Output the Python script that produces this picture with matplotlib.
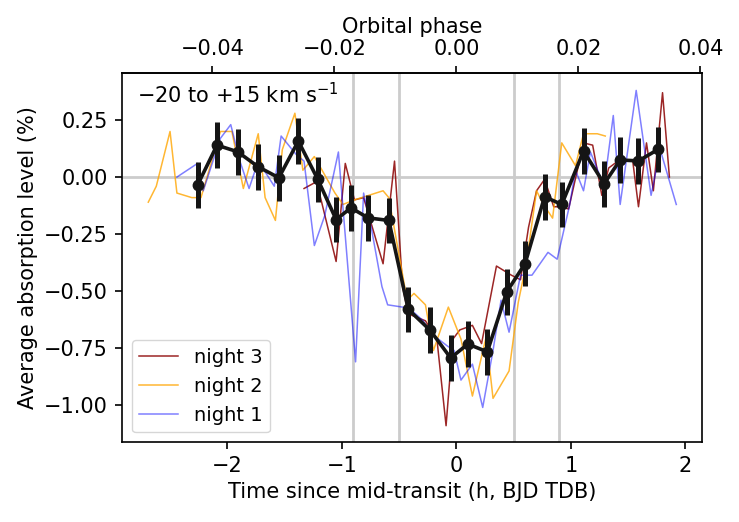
import numpy as np
import matplotlib
matplotlib.use("Agg")
import matplotlib.pyplot as plt

# night 3 (red)
n3_t = [-1.33, -1.22, -1.05, -0.97, -0.89, -0.81, -0.64, -0.54, -0.47, -0.42,
        -0.27, -0.17, -0.09, -0.03, 0.03, 0.14, 0.22, 0.35, 0.48, 0.56,
        0.63, 0.70, 0.77, 0.85, 0.91, 0.98, 1.11, 1.19, 1.27, 1.33,
        1.41, 1.54, 1.59, 1.66, 1.72, 1.80, 1.86]
n3_y = [-0.05, -0.02, -0.37, 0.06, -0.10, -0.09, -0.38, 0.07, -0.48, -0.60,
        -0.63, -0.71, -1.09, -0.71, -0.67, -0.65, -0.73, -0.39, -0.43, -0.45,
        -0.22, -0.06, -0.01, -0.13, -0.13, -0.14, 0.15, 0.14, -0.08, 0.04,
        0.07, 0.07, -0.13, 0.15, -0.06, 0.37, 0.00]

# night 2 (orange)
n2_t = [-2.69, -2.62, -2.50, -2.44, -2.31, -2.23, -2.06, -1.96, -1.86, -1.73,
        -1.67, -1.58, -1.52, -1.41, -1.34, -1.24, -1.06, -0.99, -0.89, -0.64,
        -0.59, -0.43, -0.37, -0.27, -0.20, -0.07, 0.04, 0.14, 0.26, 0.32,
        0.46, 0.54, 0.61, 0.70, 0.76, 0.84, 0.92, 1.04, 1.11, 1.23, 1.30]
n2_y = [-0.11, -0.04, 0.20, -0.07, -0.09, -0.09, 0.20, 0.20, -0.05, 0.19,
        -0.09, -0.19, 0.12, 0.28, 0.03, 0.09, -0.07, -0.12, -0.10, -0.06,
        -0.09, -0.54, -0.51, -0.56, -0.76, -0.57, -0.71, -0.96, -0.70, -0.97,
        -0.85, -0.55, -0.38, -0.06, -0.12, -0.18, 0.15, 0.05, 0.19, 0.19, 0.18]

# night 1 (blue)
n1_t = [-2.44, -2.26, -2.21, -2.06, -1.97, -1.89, -1.81, -1.73, -1.59, -1.53,
        -1.40, -1.33, -1.24, -1.15, -1.03, -0.88, -0.81, -0.74, -0.65, -0.60,
        -0.47, -0.40, -0.29, -0.21, -0.08, -0.02, 0.04, 0.14, 0.23, 0.32,
        0.39, 0.46, 0.56, 0.66, 0.80, 0.88, 0.99, 1.04, 1.11, 1.17, 1.29,
        1.37, 1.43, 1.57, 1.70, 1.78, 1.92]
n1_y = [0.00, 0.06, -0.06, 0.17, 0.23, 0.07, -0.05, 0.07, -0.04, 0.18,
        0.10, 0.07, -0.30, -0.17, 0.11, -0.81, -0.07, -0.23, -0.48, -0.56,
        -0.57, -0.58, -0.63, -0.69, -0.74, -0.76, -0.89, -0.82, -1.01, -0.76,
        -0.54, -0.68, -0.43, -0.43, -0.33, -0.36, -0.12, 0.03, -0.06, 0.11, -0.04,
        0.27, -0.12, 0.38, -0.08, 0.12, -0.12]

# binned average
bin_t = [-2.26, -2.09, -1.91, -1.73, -1.55, -1.38, -1.21, -1.05, -0.92, -0.77,
         -0.59, -0.42, -0.23, -0.05, 0.10, 0.27, 0.44, 0.60, 0.77, 0.92,
         1.11, 1.29, 1.43, 1.59, 1.76]
bin_y = [-0.035, 0.140, 0.111, 0.045, -0.003, 0.158, -0.010, -0.186, -0.135, -0.179,
         -0.190, -0.580, -0.671, -0.793, -0.732, -0.766, -0.503, -0.379, -0.086, -0.120,
         0.114, -0.029, 0.075, 0.071, 0.121]
bin_err = [0.10, 0.10, 0.10, 0.10, 0.10, 0.10, 0.10, 0.10, 0.10, 0.10,
           0.10, 0.10, 0.10, 0.10, 0.10, 0.10, 0.10, 0.10, 0.10, 0.10,
           0.10, 0.10, 0.10, 0.10, 0.10]

contacts = [-0.90, -0.50, 0.50, 0.90]
period_h = 53.25

plt.rcParams['font.family'] = 'DejaVu Sans'
plt.rcParams['font.size'] = 15
plt.rcParams['axes.linewidth'] = 1.2
for a in ('xtick', 'ytick'):
    plt.rcParams[a + '.major.size'] = 5.2
    plt.rcParams[a + '.major.width'] = 1.2
    plt.rcParams[a + '.major.pad'] = 5

fig = plt.figure(figsize=(7.39, 5.22), dpi=100)
ax = fig.add_axes([0.165, 0.153, 0.785, 0.707])

ax.axhline(0, color='#cccccc', lw=2, zorder=0)
for c in contacts:
    ax.axvline(c, color='#cccccc', lw=2, zorder=0)

ax.plot(n3_t, n3_y, color='darkred', alpha=0.85, lw=1.1, label='night 3')
ax.plot(n2_t, n2_y, color='orange', alpha=0.8, lw=1.1, label='night 2')
ax.plot(n1_t, n1_y, color='blue', alpha=0.5, lw=1.1, label='night 1')

ax.errorbar(bin_t, bin_y, yerr=bin_err, fmt='o-', color='#151515', lw=2.6,
            ms=7.5, elinewidth=3.6, capsize=0, zorder=5)

ax.set_xlim(-2.92, 2.145)
ax.set_ylim(-1.162, 0.456)
ax.set_yticks([0.25, 0.0, -0.25, -0.5, -0.75, -1.0])
ax.set_xlabel('Time since mid-transit (h, BJD TDB)')
ax.set_ylabel('Average absorption level (%)')
ax.text(0.026, 0.975, r'$-$20 to +15 km s$^{-1}$', transform=ax.transAxes,
        va='top', ha='left', fontsize=15)

top = ax.secondary_xaxis('top', functions=(lambda h: h / period_h, lambda p: p * period_h))
top.set_xticks([-0.04, -0.02, 0.0, 0.02, 0.04])
top.set_xlabel('Orbital phase')

ax.legend(loc='lower left', fontsize=14)

fig.savefig('out.png', dpi=100)
